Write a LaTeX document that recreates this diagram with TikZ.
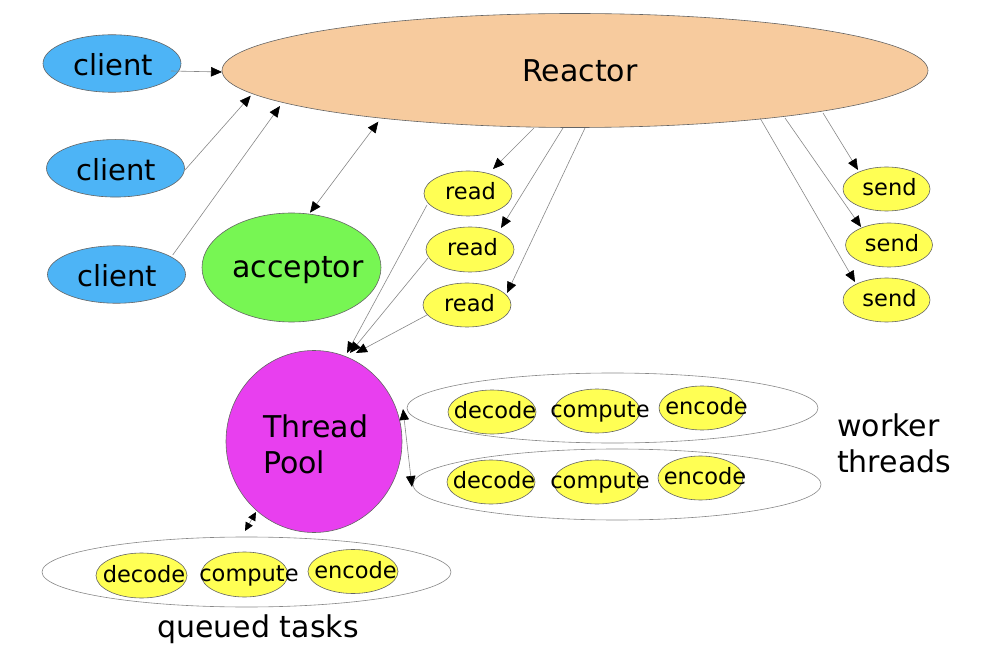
\documentclass[tikz,border=0pt]{standalone}
\usepackage{fontspec}
\setmainfont{DejaVu Sans}
\usetikzlibrary{shapes.geometric,arrows.meta,calc}
\definecolor{reactorc}{RGB}{247,203,158}
\definecolor{clientc}{RGB}{77,180,246}
\definecolor{accc}{RGB}{119,246,83}
\definecolor{poolc}{RGB}{232,63,239}
\definecolor{taskc}{RGB}{255,255,84}
\definecolor{edgec}{RGB}{100,100,100}
\definecolor{linec}{RGB}{135,135,135}
% zero-size label: #1 = extra left space (shifts text right by half), #2 = drop of baseline below centre
\newcommand{\lbl}[3]{\makebox[0pt]{\raisebox{-#2}[0pt][0pt]{\hspace{#1}#3}}}
\begin{document}
\begin{tikzpicture}[x=1pt,y=-1pt,
  shapebase/.style={ellipse, draw=edgec, line width=0.6pt, inner sep=0pt, outer sep=0pt},
  bigfont/.style={font=\fontsize{30}{36.5}\selectfont},
  clientbox/.style={shapebase, fill=clientc, minimum width=138pt, minimum height=57.5pt, font=\fontsize{29}{35}\selectfont},
  taskbox/.style={shapebase, fill=taskc, minimum width=88pt, minimum height=44pt, font=\fontsize{22.5}{27}\selectfont},
  groupbox/.style={ellipse, draw=linec, line width=0.6pt, inner sep=0pt, outer sep=0pt, minimum height=70pt},
  arr/.style={draw=linec, line width=0.6pt, -{Triangle[length=11pt,width=9.5pt,black]}},
  darr/.style={draw=linec, line width=0.6pt, {Triangle[length=11pt,width=9.5pt,black]}-{Triangle[length=11pt,width=9.5pt,black]}},
  sdarr/.style={draw=linec, line width=0.6pt, {Triangle[length=8.5pt,width=8pt,black]}-{Triangle[length=8.5pt,width=8pt,black]}}
]
\useasboundingbox (0,0) rectangle (999,652);

% group outlines
\node[groupbox, minimum width=411pt] (wt1) at (612.5,408) {};
\node[groupbox, minimum width=408pt, minimum height=71pt] (wt2) at (617,484.5) {};
\node[groupbox, minimum width=409pt] (qt) at (246.5,572) {};

% main nodes
\node[shapebase, fill=reactorc, minimum width=706pt, minimum height=114pt, bigfont] (reactor) at (575,70.5) {\lbl{10pt}{11.5pt}{Reactor}};
\node[clientbox] (client1) at (112,63.5) {\lbl{2pt}{12pt}{client}};
\node[clientbox] (client2) at (115.5,168.3) {\lbl{2pt}{12pt}{client}};
\node[clientbox] (client3) at (116.5,274.5) {\lbl{2pt}{12pt}{client}};
\node[shapebase, fill=accc, minimum width=179pt, minimum height=109pt, bigfont] (acceptor) at (291.5,267.5) {\lbl{13pt}{10.5pt}{acceptor}};
\node[shapebase, fill=poolc, minimum width=176pt, minimum height=182pt] (pool) at (314,441.5) {};
\node[bigfont, anchor=north west, inner sep=0pt, align=left] (pooltext) at (263,414.2) {Thread\\Pool};

% read / send
\node[taskbox, minimum height=45pt] (read1) at (468,193.5) {\lbl{5pt}{6.5pt}{read}};
\node[taskbox, minimum height=45pt] (read2) at (470,249.5) {\lbl{5pt}{6.5pt}{read}};
\node[taskbox] (read3) at (467,305) {\lbl{5pt}{6.5pt}{read}};
\node[taskbox, minimum width=87pt] (send1) at (886.5,189) {\lbl{6pt}{7pt}{send}};
\node[taskbox, minimum width=87pt] (send2) at (889,245) {\lbl{6pt}{7pt}{send}};
\node[taskbox, minimum width=87pt] (send3) at (886.5,300) {\lbl{6pt}{7pt}{send}};

% worker threads
\node[taskbox] (dec1) at (492,412) {\lbl{6pt}{6.5pt}{decode}};
\node[taskbox, minimum width=86pt] (com1) at (597,411) {\lbl{6pt}{6.5pt}{compute}};
\node[taskbox, minimum width=86pt] (enc1) at (702,408) {\lbl{9pt}{6.5pt}{encode}};
\node[taskbox] (dec2) at (491,482) {\lbl{6pt}{6.5pt}{decode}};
\node[taskbox, minimum width=87pt] (com2) at (597,482) {\lbl{6pt}{6.5pt}{compute}};
\node[taskbox, minimum width=85pt] (enc2) at (700.5,478) {\lbl{9pt}{6.5pt}{encode}};

% queued tasks
\node[taskbox, minimum width=91pt, minimum height=45pt] (dec3) at (141.5,575.5) {\lbl{5pt}{6.5pt}{decode}};
\node[taskbox, minimum width=87pt, minimum height=45pt] (com3) at (244.5,574.5) {\lbl{9pt}{6.5pt}{compute}};
\node[taskbox, minimum width=90pt] (enc3) at (353,571.5) {\lbl{5pt}{6.5pt}{encode}};

% captions
\node[bigfont, anchor=north west, inner sep=0pt, align=left] (wtlabel) at (837,413.2) {worker\\threads};
\node[bigfont, anchor=base, inner sep=0pt] (qtlabel) at (258,637) {queued tasks};

% connectors
\draw[arr] ($(client1)+(59,7.5)$) -- ($(reactor)+(-353,1.5)$);
\draw[arr] ($(client2)+(69.5,1.7)$) -- ($(reactor)+(-324.3,25.2)$);
\draw[arr] ($(client3)+(56.2,-19.5)$) -- ($(reactor)+(-295,35.5)$);
\draw[darr] ($(acceptor)+(18.5,-54.8)$) -- ($(reactor)+(-196.7,51.2)$);
\draw[arr] ($(reactor)+(-41,57.5)$) -- ($(read1)+(25,-24.5)$);
\draw[arr] ($(reactor)+(-12,57.5)$) -- ($(read2)+(31,-21.5)$);
\draw[arr] ($(reactor)+(10,57.5)$) -- ($(read3)+(40,-12)$);
\draw[arr] ($(reactor)+(248,42.5)$) -- ($(send1)+(-28.5,-19)$);
\draw[arr] ($(reactor)+(210,47.5)$) -- ($(send2)+(-28,-18)$);
\draw[arr] ($(reactor)+(185,47.5)$) -- ($(send3)+(-31.5,-18)$);
\draw[arr] ($(read1)+(-41,11.5)$) -- ($(pool)+(33,-88.5)$);
\draw[arr] ($(read2)+(-42,8.5)$) -- ($(pool)+(36,-88.5)$);
\draw[arr] ($(read3)+(-40,10)$) -- ($(pool)+(42,-88.5)$);
\draw[darr] ($(wt1)+(-209.5,1)$) -- ($(wt2)+(-205,2.5)$);
\draw[sdarr] ($(pool)+(-58,70.5)$) -- ($(qt)+(-1.5,-41)$);
\end{tikzpicture}
\end{document}
